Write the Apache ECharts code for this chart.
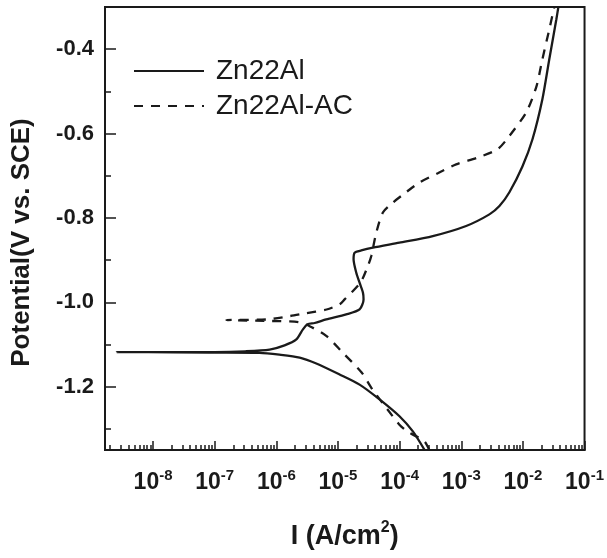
<!DOCTYPE html>
<html>
<head>
<meta charset="utf-8">
<script src="https://cdn.jsdelivr.net/npm/echarts@6/dist/echarts.min.js"></script>
<style>
html,body{margin:0;padding:0;background:#fff;}
#chart{width:607px;height:558px;}
</style>
</head>
<body>
<div id="chart"></div>
<script>
// Current density I (A/cm2) and potential E (V vs. SCE)
var zn22alI = [2.54e-4, 1.64e-4, 9.95e-5, 4.72e-5, 2.24e-5, 1.06e-5, 4.45e-6, 2.39e-6, 1.12e-6, 5.36e-7, 1.0e-7, 2.57e-9, 1.0e-7, 3.16e-7, 7.78e-7, 1.36e-6, 2.11e-6, 2.70e-6, 3.21e-6, 4.18e-6, 6.46e-6, 1.36e-5, 2.24e-5, 2.60e-5, 2.54e-5, 2.24e-5, 1.98e-5, 1.79e-5, 1.86e-5, 2.39e-5, 3.68e-5, 9.93e-5, 3.45e-4, 1.20e-3, 2.86e-3, 4.16e-3, 6.04e-3, 9.82e-3, 1.43e-2, 2.07e-2, 2.68e-2, 3.49e-2, 3.76e-2];
var zn22alE = [-1.350, -1.306, -1.270, -1.230, -1.195, -1.171, -1.145, -1.131, -1.124, -1.1196, -1.119, -1.118, -1.1178, -1.116, -1.112, -1.102, -1.088, -1.064, -1.052, -1.049, -1.0406, -1.0287, -1.0169, -0.993, -0.977, -0.9535, -0.930, -0.898, -0.8823, -0.877, -0.8705, -0.8586, -0.843, -0.819, -0.7915, -0.7718, -0.739, -0.678, -0.6135, -0.5186, -0.4237, -0.329, -0.300];

var zn22alAcI = [3.02e-4, 2.54e-4, 1.34e-4, 9.93e-5, 6.37e-5, 3.63e-5, 2.42e-5, 1.19e-5, 6.53e-6, 3.47e-6, 2.39e-6, 1.64e-6, 6.97e-7, 1.55e-7, 6.97e-7, 1.64e-6, 2.88e-6, 6.53e-6, 1.06e-5, 1.28e-5, 2.32e-5, 3.05e-5, 3.47e-5, 4.18e-5, 5.35e-5, 7.76e-5, 1.06e-4, 2.10e-4, 4.16e-4, 8.26e-4, 1.85e-3, 3.90e-3, 6.01e-3, 1.14e-2, 1.66e-2, 2.07e-2, 2.68e-2, 3.23e-2];
var zn22alAcE = [-1.350, -1.330, -1.306, -1.290, -1.254, -1.2067, -1.1663, -1.119, -1.080, -1.0565, -1.0477, -1.0453, -1.044, -1.042, -1.0406, -1.0327, -1.0263, -1.017, -1.005, -0.993, -0.953, -0.914, -0.890, -0.835, -0.787, -0.7637, -0.748, -0.716, -0.694, -0.673, -0.657, -0.637, -0.606, -0.549, -0.488, -0.424, -0.353, -0.300];

var seriesNames = ['Zn22Al', 'Zn22Al-AC'];
var xMajorTicks = [1e-8, 1e-7, 1e-6, 1e-5, 1e-4, 1e-3, 1e-2, 1e-1];
var xMinorMult = [2, 3, 4, 5, 6, 7, 8, 9];
var xMinorDecades = [1e-9, 1e-8, 1e-7, 1e-6, 1e-5, 1e-4, 1e-3, 1e-2];
var yMajorTicks = [-1.2, -1.0, -0.8, -0.6, -0.4];
var yMinorTicks = [-1.3, -1.1, -0.9, -0.7, -0.5];
var xMin = 1.66e-9, xMax = 0.1, yMin = -1.35, yMax = -0.3;

function pairs(xs, ys) { return xs.map(function (x, i) { return [x, ys[i]]; }); }
var xMinorTicks = [];
xMinorDecades.forEach(function (d) { xMinorMult.forEach(function (m) { xMinorTicks.push(parseFloat((m * d).toPrecision(3))); }); });

var FONT = '"Liberation Sans", Arial, sans-serif';
var INK = '#1a1a1a';

var chart = echarts.init(document.getElementById('chart'), null, { renderer: 'canvas' });
chart.setOption({
  animation: false,
  backgroundColor: '#fff',
  grid: { left: 105, right: 22, top: 7, bottom: 108, show: true, borderColor: INK, borderWidth: 2, backgroundColor: 'transparent' },
  legend: {
    left: 133, top: 57, padding: 0, orient: 'vertical', itemWidth: 70, itemHeight: 14, itemGap: 7,
    data: seriesNames,
    itemStyle: { opacity: 0 },
    textStyle: { fontFamily: FONT, fontSize: 28, color: INK, padding: [0, 0, 0, 7] }
  },
  xAxis: [{
    type: 'log', logBase: 10, min: xMin, max: xMax,
    name: '{b|I (A/cm}{s|2}{b|)}', nameLocation: 'middle', nameGap: 70,
    nameTextStyle: { fontFamily: FONT, fontSize: 27, fontWeight: 'bold', color: INK,
      rich: {
        b: { fontFamily: FONT, fontSize: 27, fontWeight: 'bold', color: INK, lineHeight: 30, verticalAlign: 'bottom' },
        s: { fontFamily: FONT, fontSize: 16, fontWeight: 'bold', color: INK, lineHeight: 14, verticalAlign: 'top' }
      } },
    axisLine: { show: true, lineStyle: { color: INK, width: 2 } },
    axisTick: { show: true, inside: true, length: 9, customValues: xMajorTicks, lineStyle: { color: INK, width: 1.5 } },
    axisLabel: { customValues: xMajorTicks, margin: 18,
      formatter: function (v) { return '{b|10}{s|' + Math.round(Math.log10(v)) + '}'; },
      rich: {
        b: { fontFamily: FONT, fontSize: 23, fontWeight: 'bold', color: INK, lineHeight: 26, verticalAlign: 'bottom' },
        s: { fontFamily: FONT, fontSize: 15, fontWeight: 'bold', color: INK, lineHeight: 12, verticalAlign: 'top' }
      } },
    splitLine: { show: false }
  }, {
    type: 'log', logBase: 10, min: xMin, max: xMax, position: 'bottom',
    axisLine: { show: false },
    axisTick: { show: true, inside: true, length: 5, customValues: xMinorTicks, lineStyle: { color: INK, width: 1.5 } },
    axisLabel: { show: false }, splitLine: { show: false }
  }],
  yAxis: [{
    type: 'value', min: yMin, max: yMax,
    name: 'Potential(V vs. SCE)', nameLocation: 'middle', nameGap: 70,
    nameTextStyle: { fontFamily: FONT, fontSize: 26, fontWeight: 'bold', color: INK, padding: [0, 28, 0, 0] },
    axisLine: { show: true, lineStyle: { color: INK, width: 2 } },
    axisTick: { show: true, inside: true, length: 11, customValues: yMajorTicks, lineStyle: { color: INK, width: 1.5 } },
    axisLabel: { customValues: yMajorTicks, margin: 11, fontFamily: FONT, fontSize: 22, fontWeight: 'bold', color: INK,
      formatter: function (v) { return v.toFixed(1); } },
    splitLine: { show: false }
  }, {
    type: 'value', min: yMin, max: yMax, position: 'left',
    axisLine: { show: false },
    axisTick: { show: true, inside: true, length: 6, customValues: yMinorTicks, lineStyle: { color: INK, width: 1.5 } },
    axisLabel: { show: false }, splitLine: { show: false }
  }],
  series: [{
    name: seriesNames[0], type: 'line', xAxisIndex: 0, yAxisIndex: 0,
    data: pairs(zn22alI, zn22alE), showSymbol: false, symbol: 'none', symbolSize: 0, smooth: 0.25,
    lineStyle: { color: INK, width: 2.3, type: 'solid' }, itemStyle: { color: INK }
  }, {
    name: seriesNames[1], type: 'line', xAxisIndex: 0, yAxisIndex: 0,
    data: pairs(zn22alAcI, zn22alAcE), showSymbol: false, symbol: 'none', symbolSize: 0, smooth: 0.25,
    lineStyle: { color: INK, width: 2.3, type: [9, 8] }, itemStyle: { color: INK }
  }]
});
</script>
</body>
</html>
